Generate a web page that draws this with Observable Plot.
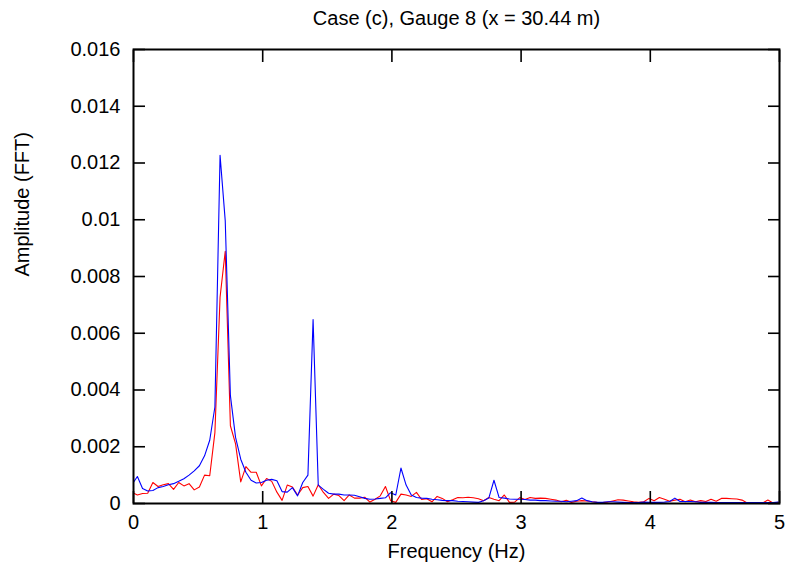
<!DOCTYPE html>
<html>
<head>
<meta charset="utf-8">
<script src="https://cdn.jsdelivr.net/npm/d3@7"></script>
<script src="https://cdn.jsdelivr.net/npm/@observablehq/plot@0.6"></script>
<style>
  html, body { margin: 0; padding: 0; background: #fff; }
  #chart svg { display: block; }
</style>
</head>
<body>
<div id="chart"></div>
<script>
const titleText = "Case (c), Gauge 8 (x = 30.44 m)";
const xLabel = "Frequency (Hz)";
const yLabel = "Amplitude (FFT)";
const xTicks = [0, 1, 2, 3, 4, 5];
const yTicks = [0, 0.002, 0.004, 0.006, 0.008, 0.01, 0.012, 0.014, 0.016];

// frequency grid (Hz): first bin, bin spacing
const f0 = -0.01;
const df = 0.04;

// blue series amplitude per bin
const blueAmp = [
  0.00068, 0.00095, 0.00053, 0.00044, 0.00046, 0.00056, 0.0006, 0.00066, 0.0007, 0.00078,
  0.00087, 0.001, 0.00115, 0.00133, 0.00168, 0.00223, 0.0034, 0.01227, 0.00997, 0.0038,
  0.00233, 0.00156, 0.0011, 0.00082, 0.00072, 0.00074, 0.00082, 0.00085, 0.0008, 0.00042,
  0.0004, 0.00056, 0.00027, 0.00074, 0.001, 0.00648, 0.00065, 0.0005, 0.00036, 0.00033,
  0.00033, 0.0003, 0.0003, 0.00029, 0.00024, 0.00018, 0.00015, 0.00016, 0.00018, 0.0002,
  0.00038, 0.0003, 0.00125, 0.00065, 0.0003, 0.00021, 0.00019, 0.00018, 0.00015, 0.00013,
  0.00011, 0.0001, 0.0001, 0.00008, 0.00007, 0.00006, 0.00005, 0.00004, 0.0001, 0.00019,
  0.00082, 0.00021, 0.00019, 0.00016, 0.00015, 0.00015, 0.00014, 0.00012, 0.00012, 0.0001,
  0.0001, 0.00009, 0.00008, 0.00008, 0.00006, 0.00008, 0.0001, 0.00019, 0.0001, 0.00006,
  0.00004, 0.00004, 0.00006, 0.00006, 0.00005, 0.00004, 0.00003, 0.00003, 0.00003, 0.00005,
  0.00004, 0.00004, 0.00004, 0.00005, 0.00007, 0.00019, 0.00007, 0.00007, 0.00007, 0.00006,
  0.00004, 0.00004, 0.00004, 0.00003, 0.00003, 0.00003, 0.00003, 0.00003, 0.00003, 0.00003,
  0.00003, 0.00003, 0.00003, 0.00003, 0.00003, 0.00005
];

// red series amplitude per bin
const redAmp = [
  0.00039, 0.0003, 0.00035, 0.00036, 0.00074, 0.0006, 0.00066, 0.0007, 0.0005, 0.00074,
  0.00062, 0.0007, 0.00048, 0.00058, 0.001, 0.00098, 0.0025, 0.00727, 0.00889, 0.00274,
  0.0021, 0.00076, 0.0013, 0.0011, 0.0011, 0.00062, 0.00088, 0.00078, 0.0004, 0.00011,
  0.00065, 0.00058, 0.0003, 0.00056, 0.0006, 0.00026, 0.00066, 0.00039, 0.00018, 0.00033,
  0.00028, 0.0001, 0.0003, 0.00019, 0.00019, 0.00022, 0.00005, 0.00015, 0.00027, 0.0006,
  0.0001, 0.00004, 0.00033, 0.0003, 0.00025, 0.00039, 0.00014, 0.00017, 0.00006, 0.00025,
  0.00018, 0.00006, 0.00013, 0.00021, 0.0002, 0.00022, 0.0002, 0.00017, 0.0001, 0.00021,
  0.00015, 0.0001, 0.0003, 0.00004, 0.00005, 0.00021, 0.00014, 0.00021, 0.00018, 0.00019,
  0.00018, 0.00015, 0.00012, 0.00006, 0.00011, 0.00004, 0.00008, 0.0001, 0.00009, 0.00006,
  0.00004, 0.00003, 0.00005, 0.00009, 0.00013, 0.00012, 0.00009, 0.00006, 0.00004, 0.00006,
  0.00018, 0.0001, 0.00021, 0.00015, 0.00008, 0.00012, 0.00015, 0.00006, 0.00012, 0.00006,
  0.0001, 0.00007, 0.00015, 0.00008, 0.00018, 0.00018, 0.00017, 0.00016, 0.00012, 0.00002,
  0.00001, 0.00001, 0.00002, 0.00012, 0.00002, 0.00004
];

const toRows = (amp) => amp.map((a, i) => ({f: f0 + df * i, a}));
const blueRows = toRows(blueAmp);
const redRows = toRows(redAmp);

const font = "'Liberation Sans', Arial, sans-serif";
const fs = 20;

const chart = Plot.plot({
  width: 789,
  height: 571,
  marginLeft: 133,
  marginRight: 10,
  marginTop: 49,
  marginBottom: 68,
  style: {fontFamily: font, fontSize: fs + "px", color: "#000", background: "#fff"},
  x: {domain: [0, 5]},
  y: {domain: [0, 0.016]},
  marks: [
    Plot.lineY(redRows, {x: "f", y: "a", stroke: "#ff0000", strokeWidth: 1.1, clip: true}),
    Plot.lineY(blueRows, {x: "f", y: "a", stroke: "#0000ff", strokeWidth: 1.1, clip: true}),
    // inward ticks on all four sides
    Plot.axisX(xTicks, {anchor: "bottom", tickSize: -12, text: null, label: null, strokeWidth: 1.6}),
    Plot.axisX(xTicks, {anchor: "top", tickSize: -12, text: null, label: null, strokeWidth: 1.6}),
    Plot.axisY(yTicks, {anchor: "left", tickSize: -12, text: null, label: null, strokeWidth: 1.6}),
    Plot.axisY(yTicks, {anchor: "right", tickSize: -12, text: null, label: null, strokeWidth: 1.6}),
    // tick labels
    Plot.axisX(xTicks, {anchor: "bottom", tickSize: 0, tickPadding: 11, label: null, fontSize: fs, tickFormat: d3.format("~g")}),
    Plot.axisY(yTicks, {anchor: "left", tickSize: 0, tickPadding: 13, label: null, fontSize: fs, tickFormat: d3.format("~g")}),
    Plot.frame({stroke: "#000", strokeWidth: 2}),
    // titles
    Plot.text([titleText], {frameAnchor: "top", dy: -31, lineAnchor: "middle", fontSize: fs, fill: "#000"}),
    Plot.text([xLabel], {frameAnchor: "bottom", dy: 48, lineAnchor: "middle", fontSize: fs, fill: "#000"}),
    Plot.text([yLabel], {frameAnchor: "left", dx: -111, rotate: -90, lineAnchor: "middle", fontSize: fs, fill: "#000"})
  ]
});
document.getElementById("chart").appendChild(chart);
</script>
</body>
</html>
